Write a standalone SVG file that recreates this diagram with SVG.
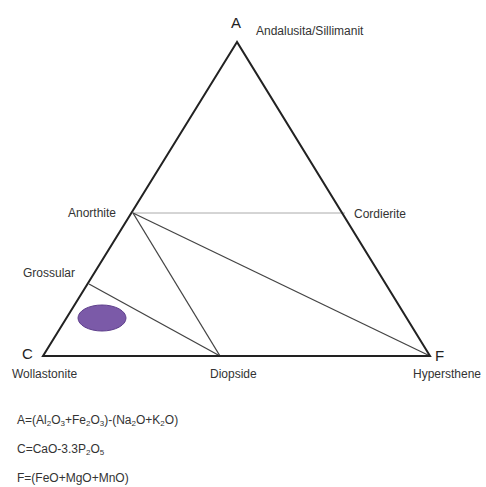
<svg xmlns="http://www.w3.org/2000/svg" width="486" height="487" viewBox="0 0 486 487">
<style>
.lbl{font-family:"Liberation Sans",Arial,sans-serif;font-size:12px;fill:#333}
.sub{font-size:8px}
.big{font-family:"Liberation Sans",Arial,sans-serif;font-size:15px;fill:#222}
.edge{stroke:#222;stroke-width:2;fill:none;stroke-linejoin:miter}
.tie{stroke:#444;stroke-width:1.3;fill:none}
.thin{stroke:#aaa;stroke-width:1;fill:none}
</style>
<rect width="486" height="487" fill="#fff"/>
<g id="connectors">
<line class="thin" x1="133" y1="213" x2="345" y2="213"/>
<line class="tie" x1="133" y1="213" x2="430" y2="356"/>
<line class="tie" x1="133" y1="213" x2="220" y2="356"/>
<line class="tie" x1="89" y1="284" x2="220" y2="356"/>
</g>
<g id="triangle">
<polygon class="edge" points="237,42 43,356 430,356"/>
</g>
<g id="ellipse">
<ellipse cx="102" cy="318" rx="24" ry="13" fill="#7b5aa8" stroke="#5e3f8c" stroke-width="1"/>
</g>
<g id="node-A">
<text class="big" x="231" y="28">A</text>
<text class="lbl" x="256" y="35">Andalusita/Sillimanit</text>
</g>
<g id="node-anorthite"><text class="lbl" x="68" y="217">Anorthite</text></g>
<g id="node-cordierite"><text class="lbl" x="354" y="218">Cordierite</text></g>
<g id="node-grossular"><text class="lbl" x="23" y="277">Grossular</text></g>
<g id="node-C">
<text class="big" x="22" y="359">C</text>
<text class="lbl" x="12" y="378">Wollastonite</text>
</g>
<g id="node-diopside"><text class="lbl" x="210" y="378">Diopside</text></g>
<g id="node-F">
<text class="big" x="435" y="361">F</text>
<text class="lbl" x="413" y="378">Hypersthene</text>
</g>
<g id="formulas">
<text class="lbl" x="17" y="424">A=(Al<tspan class="sub" dy="2">2</tspan><tspan dy="-2">O</tspan><tspan class="sub" dy="2">3</tspan><tspan dy="-2">+Fe</tspan><tspan class="sub" dy="2">2</tspan><tspan dy="-2">O</tspan><tspan class="sub" dy="2">3</tspan><tspan dy="-2">)-(Na</tspan><tspan class="sub" dy="2">2</tspan><tspan dy="-2">O+K</tspan><tspan class="sub" dy="2">2</tspan><tspan dy="-2">O)</tspan></text>
<text class="lbl" x="17" y="453">C=CaO-3.3P<tspan class="sub" dy="2">2</tspan><tspan dy="-2">O</tspan><tspan class="sub" dy="2">5</tspan></text>
<text class="lbl" x="17" y="482">F=(FeO+MgO+MnO)</text>
</g>
</svg>
